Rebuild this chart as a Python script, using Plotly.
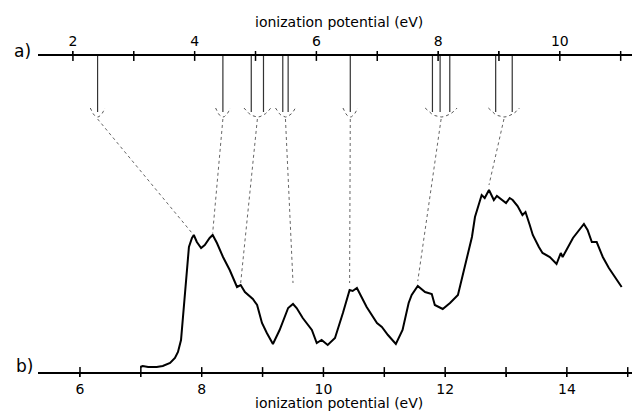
import plotly.graph_objects as go

# ---------------- data ----------------
# spectrum b) : energy (eV, bottom scale) and intensity (arbitrary units)
spec_e = [6.99, 7.03, 7.12, 7.26, 7.36, 7.48, 7.56, 7.61, 7.66, 7.69, 7.72, 7.76, 7.79, 7.84, 7.87,
          7.92, 7.99, 8.05, 8.13, 8.18, 8.25, 8.35, 8.46, 8.58, 8.64, 8.71, 8.84, 8.91, 8.99, 9.07,
          9.17, 9.28, 9.42, 9.50, 9.56, 9.66, 9.81, 9.89, 9.97, 10.07, 10.19, 10.32, 10.43, 10.48,
          10.55, 10.71, 10.88, 10.96, 11.06, 11.19, 11.30, 11.40, 11.45, 11.55, 11.67, 11.78, 11.83,
          11.96, 12.08, 12.21, 12.27, 12.35, 12.44, 12.49, 12.60, 12.65, 12.72, 12.80, 12.85, 13.00,
          13.06, 13.11, 13.19, 13.27, 13.32, 13.39, 13.44, 13.54, 13.60, 13.72, 13.83, 13.90, 13.93,
          14.10, 14.28, 14.34, 14.41, 14.49, 14.59, 14.69, 14.90]
spec_i = [5, 6, 5, 5, 6, 9, 14, 20, 32, 52, 72, 99, 125, 134, 137,
          130, 124, 127, 134, 137, 129, 115, 102, 85, 87, 80, 73, 67, 49, 39,
          28, 42, 64, 68, 64, 54, 42, 29, 32, 27, 34, 59, 82, 81,
          84, 65, 49, 45, 37, 28, 42, 69, 77, 86, 80, 78, 67,
          63, 69, 77, 92, 115, 135, 155, 177, 174, 182, 172, 176, 169,
          174, 172, 166, 157, 160, 147, 137, 125, 119, 115, 108, 119, 115,
          134, 148, 142, 130, 130, 115, 104, 85]

# a) calculated ionization potentials (eV, top scale), grouped
level_groups = [[2.405], [4.464], [4.930, 5.131], [5.448, 5.536], [6.557],
                [7.907, 8.033, 8.192], [8.946, 9.218]]
# matching spectral features (eV, bottom scale) and where the connector ends
peak_e = [7.84, 8.18, 8.64, 9.50, 10.43, 11.55, 12.72]
peak_level = [139, 139, 89, 89, 89, 91, 187]

bottom_ticks = [6, 7, 8, 9, 10, 11, 12, 13, 14, 15]
bottom_labels = ["6", "", "8", "", "10", "", "12", "", "14", ""]
top_ticks = [2, 3, 4, 5, 6, 7, 8, 9, 10, 11]
top_labels = ["2", "", "4", "", "6", "", "8", "", "10", ""]

# ---------------- layout constants ----------------
xb_range = [5.31, 15.07]
xt_range = [1.426, 11.186]
y_top = 316            # height of the top axis in y units
arrow_end = 260
cup_tip = 264
cup_bottom = 255
offset = xb_range[0] - xt_range[0]

FONT = "DejaVu Sans"

fig = go.Figure()

# spectrum
fig.add_trace(go.Scatter(x=spec_e, y=spec_i, mode="lines", xaxis="x", yaxis="y",
                         line=dict(color="black", width=2), hoverinfo="skip"))

# vertical arrows
ax_x, ax_y = [], []
for g in level_groups:
    for v in g:
        ax_x += [v, v, None]
        ax_y += [y_top, arrow_end, None]
fig.add_trace(go.Scatter(x=ax_x, y=ax_y, mode="lines", xaxis="x2", yaxis="y",
                         line=dict(color="#333333", width=1.2), hoverinfo="skip"))

# dashed cup-shaped heads + connectors
cup_x, cup_y, con_x, con_y = [], [], [], []
n = 11
for g, pe, pl in zip(level_groups, peak_e, peak_level):
    c = (min(g) + max(g)) / 2
    hw = (max(g) - min(g)) / 2 + 0.12
    for k in range(n):
        s = -1 + 2 * k / (n - 1)
        cup_x.append(c + hw * s)
        cup_y.append(cup_bottom + (cup_tip - cup_bottom) * s * s)
    cup_x.append(None); cup_y.append(None)
    con_x += [c, pe - offset, None]
    con_y += [cup_bottom - 2, pl, None]
fig.add_trace(go.Scatter(x=cup_x, y=cup_y, mode="lines", xaxis="x2", yaxis="y",
                         line=dict(color="#555555", width=1, dash="3px,3px"), hoverinfo="skip"))
fig.add_trace(go.Scatter(x=con_x, y=con_y, mode="lines", xaxis="x2", yaxis="y",
                         line=dict(color="#666666", width=1, dash="3px,3px"), hoverinfo="skip"))

# crossing tick marks
fig.add_trace(go.Scatter(x=bottom_ticks, y=[0] * len(bottom_ticks), mode="markers", xaxis="x", yaxis="y",
                         marker=dict(symbol="line-ns", size=7, line=dict(color="black", width=1.5)),
                         cliponaxis=False, hoverinfo="skip"))
fig.add_trace(go.Scatter(x=top_ticks, y=[y_top] * len(top_ticks), mode="markers", xaxis="x2", yaxis="y",
                         marker=dict(symbol="line-ns", size=7, line=dict(color="black", width=1.5)),
                         cliponaxis=False, hoverinfo="skip"))

fig.update_layout(
    width=632, height=412,
    margin=dict(l=38, r=0, t=56, b=40),
    paper_bgcolor="white", plot_bgcolor="white",
    showlegend=False,
    font=dict(family=FONT, size=14, color="black"),
    xaxis=dict(range=xb_range, showline=True, linecolor="black", linewidth=1.5,
               tickvals=bottom_ticks, ticktext=bottom_labels, ticks="outside", ticklen=3,
               tickcolor="black", showgrid=False, zeroline=False,
               tickfont=dict(family=FONT, size=14)),
    xaxis2=dict(range=xt_range, overlaying="x", side="top", showline=True, linecolor="black",
                linewidth=1.5, tickvals=top_ticks, ticktext=top_labels, ticks="outside", ticklen=3,
                tickcolor="black", showgrid=False, zeroline=False,
                tickfont=dict(family=FONT, size=14)),
    yaxis=dict(range=[0, y_top], visible=False, showgrid=False, zeroline=False),
    annotations=[
        dict(text="ionization potential (eV)", xref="paper", yref="paper", x=0.507, y=1,
             yshift=34, xanchor="center", yanchor="middle", showarrow=False,
             font=dict(family=FONT, size=14)),
        dict(text="ionization potential (eV)", xref="paper", yref="paper", x=0.507, y=0,
             yshift=-31, xanchor="center", yanchor="middle", showarrow=False,
             font=dict(family=FONT, size=14)),
        dict(text="a)", xref="paper", yref="paper", x=0, y=1, xshift=-16, yshift=5,
             xanchor="center", yanchor="middle", showarrow=False, font=dict(family=FONT, size=17)),
        dict(text="b)", xref="paper", yref="paper", x=0, y=0, xshift=-14, yshift=6,
             xanchor="center", yanchor="middle", showarrow=False, font=dict(family=FONT, size=17)),
    ],
)

fig.write_html("out.html", config={"displayModeBar": False},
               post_script="document.body.style.margin='0';document.body.style.overflow='hidden';")
